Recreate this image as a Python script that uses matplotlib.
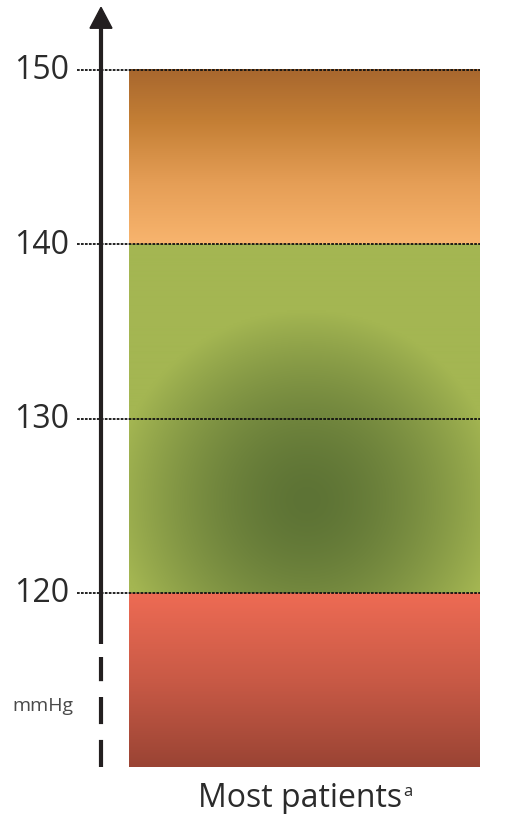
import numpy as np
import matplotlib.pyplot as plt
from matplotlib.colors import to_rgb

# blood pressure target zones (mmHg)
zone_low = [110, 120, 140]
zone_high = [120, 140, 150]
ticks = [120, 130, 140, 150]
tick_labels = ['120', '130', '140', '150']
category = 'Most patients'

# vertical colour stops per zone: (position 0..1 from bottom, colour)
red_stops = [(0.0, '#9a4434'), (0.5, '#c95a46'), (1.0, '#ee6b54')]
orange_stops = [(0.0, '#f8b46e'), (0.35, '#e59e56'), (0.7, '#c47f35'), (1.0, '#a8672e')]
green_edge = '#a4b652'
green_core = '#5d7335'
green_center = 125.3

plt.rcParams['font.family'] = ['Open Sans', 'DejaVu Sans']

fig = plt.figure(figsize=(5.08, 8.14), dpi=100)
ax = fig.add_axes([0, 0, 1, 1])
# x in pixels, y in mmHg
ax.set_xlim(0, 508)
ax.set_ylim(107.32, 154.02)
ax.axis('off')

bar_x0, bar_x1 = 129, 480
ny_per_unit = 12
xs = np.linspace(bar_x0, bar_x1, 351)


def vgrad(stops, n):
    t = np.linspace(0, 1, n)
    pos = [s[0] for s in stops]
    cols = np.array([to_rgb(s[1]) for s in stops])
    out = np.stack([np.interp(t, pos, cols[:, k]) for k in range(3)], axis=-1)
    return np.repeat(out[:, None, :], len(xs), axis=1)


for lo, hi in zip(zone_low, zone_high):
    n = int((hi - lo) * ny_per_unit)
    if lo == 120:
        ys = np.linspace(lo, hi, n)
        X, Y = np.meshgrid(xs, ys)
        # radial darkening in pixel space (17.43 px per mmHg)
        dx = (X - 307) / 195.0
        dy = (Y - green_center) * 17.43 / 190.0
        r = np.clip(np.sqrt(dx ** 2 + dy ** 2), 0, 1)
        w = 1 - r ** 1.6
        c0 = np.array(to_rgb(green_edge))
        c1 = np.array(to_rgb(green_core))
        img = c0 + (c1 - c0) * w[..., None]
    elif lo == 110:
        img = vgrad(red_stops, n)
    else:
        img = vgrad(orange_stops, n)
    ax.imshow(img, extent=(bar_x0, bar_x1, lo, hi), origin='lower',
              aspect='auto', interpolation='bilinear', zorder=1)

# dotted reference lines
for t, lab in zip(ticks, tick_labels):
    ax.plot([77, 480], [t, t], color='#111111', lw=1.3,
            linestyle=(0, (1.5, 0.7)), zorder=3)
    ax.text(69, t - 0.05, lab, ha='right', va='center', fontsize=23,
            color='#2b2b2b')

# axis with arrow head and broken lower part
ax.plot([101, 101], [117.1, 152.6], color='#231f20', lw=3,
        solid_capstyle='butt', zorder=4)
ax.plot([101, 101], [110.0, 116.3], color='#231f20', lw=3,
        linestyle=(0, (6.5, 3.8)), dash_capstyle='butt', zorder=4)
ax.fill([90, 112, 101], [152.4, 152.4, 153.6], color='#231f20', zorder=4)

ax.text(12, 113.5, 'mmHg', ha='left', va='center', fontsize=14,
        color='#4a4a4a')
cat = ax.text(300, 107.72, category, ha='center', va='baseline', fontsize=23,
              color='#2b2b2b')
ax.annotate('a', xy=(1, 0), xycoords=cat, xytext=(1, 14),
            textcoords='offset points', ha='left', va='baseline',
            fontsize=12, color='#2b2b2b')

fig.savefig('out.png', dpi=100)
